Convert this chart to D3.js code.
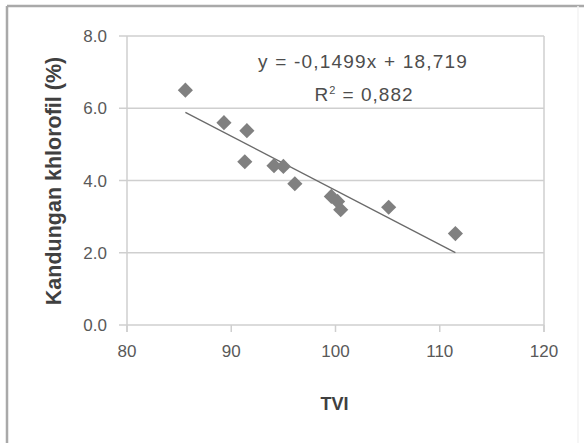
<!DOCTYPE html>
<html><head><meta charset="utf-8">
<script src="https://cdn.jsdelivr.net/npm/d3@7"></script>
<style>html,body{margin:0;padding:0;background:#fff;}svg{display:block;}</style>
</head><body>
<script>
// Data
const tvi = [85.6, 89.3, 91.5, 91.3, 94.1, 95.0, 96.1, 99.6, 100.2, 100.5, 105.1, 111.5];
const chlorophyll = [6.50, 5.60, 5.38, 4.52, 4.41, 4.39, 3.91, 3.56, 3.42, 3.19, 3.26, 2.53];
const xTicks = [80, 90, 100, 110, 120];
const yTicks = [0, 2, 4, 6, 8];
const slope = -0.1499, intercept = 18.719;
const eqText = "y = -0,1499x + 18,719";
const r2Text = ["R", "2", " = 0,882"];
const xTitle = "TVI";
const yTitle = "Kandungan khlorofil (%)";

const W = 584, H = 443;
const svg = d3.select("body").append("svg").attr("width", W).attr("height", H);
const font = "'Liberation Sans', Arial, sans-serif";

// outer chart border
svg.append("line").attr("x1", 7).attr("x2", W).attr("y1", 6).attr("y2", 6).attr("stroke", "#a9a9a9").attr("stroke-width", 2.5);
svg.append("line").attr("x1", 7).attr("x2", 7).attr("y1", 6).attr("y2", H).attr("stroke", "#a9a9a9").attr("stroke-width", 2.5);
svg.append("line").attr("x1", 578).attr("x2", 578).attr("y1", 6).attr("y2", H).attr("stroke", "#f3f3f3").attr("stroke-width", 1.5);

const x = d3.scaleLinear().domain([80, 120]).range([127, 544]);
const y = d3.scaleLinear().domain([0, 8]).range([325, 36]);

const gridColor = "#cfcfcf";
// horizontal gridlines with outside ticks
svg.append("g").selectAll("line").data(yTicks).join("line")
  .attr("x1", x(80) - 8).attr("x2", x(120))
  .attr("y1", d => y(d)).attr("y2", d => y(d))
  .attr("stroke", gridColor).attr("stroke-width", 1.5);
// axis lines / plot border
svg.append("line").attr("x1", x(80)).attr("x2", x(80)).attr("y1", y(8)).attr("y2", y(0) + 7)
  .attr("stroke", gridColor).attr("stroke-width", 1.5);
svg.append("line").attr("x1", x(120)).attr("x2", x(120)).attr("y1", y(8)).attr("y2", y(0) + 7)
  .attr("stroke", gridColor).attr("stroke-width", 1.5);
// x ticks
svg.append("g").selectAll("line").data(xTicks).join("line")
  .attr("x1", d => x(d)).attr("x2", d => x(d))
  .attr("y1", y(0)).attr("y2", y(0) + 7)
  .attr("stroke", gridColor).attr("stroke-width", 1.5);

// tick labels
svg.append("g").selectAll("text").data(yTicks).join("text")
  .attr("x", 107).attr("y", d => y(d) + 6)
  .attr("text-anchor", "end").attr("font-family", font).attr("font-size", 17)
  .attr("fill", "#595959").text(d => d.toFixed(1));
svg.append("g").selectAll("text").data(xTicks).join("text")
  .attr("x", d => x(d)).attr("y", 357)
  .attr("text-anchor", "middle").attr("font-family", font).attr("font-size", 17)
  .attr("fill", "#595959").text(d => d);

// axis titles
svg.append("text").attr("x", x(100) - 1).attr("y", 410).attr("text-anchor", "middle")
  .attr("font-family", font).attr("font-size", 18).attr("font-weight", "bold")
  .attr("fill", "#404040").text(xTitle);
svg.append("text").attr("transform", "translate(61,181) rotate(-90)").attr("text-anchor", "middle")
  .attr("font-family", font).attr("font-size", 21.5).attr("font-weight", "bold")
  .attr("fill", "#404040").text(yTitle);

// trendline
const xExt = d3.extent(tvi);
svg.append("line")
  .attr("x1", x(xExt[0])).attr("y1", y(slope * xExt[0] + intercept))
  .attr("x2", x(xExt[1])).attr("y2", y(slope * xExt[1] + intercept))
  .attr("stroke", "#6a6a6a").attr("stroke-width", 1.3);

// markers
const sym = d3.symbol().type(d3.symbolSquare).size(115);
svg.append("g").selectAll("path").data(tvi.map((t, i) => [t, chlorophyll[i]])).join("path")
  .attr("d", sym)
  .attr("transform", d => `translate(${x(d[0])},${y(d[1])}) rotate(45)`)
  .attr("fill", "#808080");

// equation labels
svg.append("text").attr("x", 363).attr("y", 68).attr("text-anchor", "middle")
  .attr("font-family", font).attr("font-size", 19).attr("letter-spacing", 1.2)
  .attr("fill", "#4d4d4d").text(eqText);
const r2 = svg.append("text").attr("x", 364).attr("y", 101).attr("text-anchor", "middle")
  .attr("font-family", font).attr("font-size", 19).attr("letter-spacing", 1)
  .attr("fill", "#4d4d4d");
r2.append("tspan").text(r2Text[0]);
r2.append("tspan").attr("font-size", 11).attr("dy", -7).text(r2Text[1]);
r2.append("tspan").attr("dy", 7).text(r2Text[2]);
</script>
</body></html>
